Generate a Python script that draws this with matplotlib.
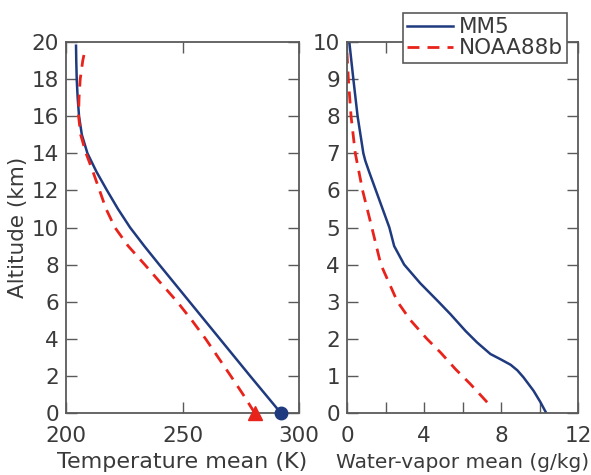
import matplotlib
matplotlib.use("Agg")
import matplotlib.pyplot as plt
from matplotlib.ticker import MultipleLocator, FixedLocator

# Temperature profiles (altitude in km, temperature in K)
temp_alt_mm5 = [0, 1, 2, 3, 4, 5, 6, 7, 8, 9, 10, 11, 12, 13, 14, 15, 16, 17, 18, 19, 19.8]
temp_mm5 = [292.2, 285.6, 279.0, 272.5, 266.0, 259.5, 253.0, 246.5, 240.0, 233.6, 227.5,
            222.3, 217.6, 213.1, 209.2, 206.8, 205.6, 205.0, 204.6, 204.4, 204.3]
temp_alt_noaa = [0, 1, 2, 3, 4, 5, 6, 7, 8, 9, 10, 11, 12, 13, 14, 15, 16, 17, 18, 19, 19.6]
temp_noaa = [281.0, 276.0, 270.7, 265.3, 259.9, 254.0, 247.7, 240.7, 233.8, 226.7, 221.0,
             217.2, 214.4, 211.6, 208.6, 206.3, 205.4, 205.6, 206.1, 207.2, 208.2]

# Water-vapor profiles (altitude in km, mixing ratio in g/kg)
wv_alt_mm5 = [0, 0.3, 0.6, 0.96, 1.15, 1.3, 1.45, 1.59, 1.9, 2.21, 2.66, 3.0, 3.5, 4.0, 4.5,
              5.0, 5.5, 6.0, 6.5, 6.8, 7.0, 8.0, 9.0, 10.0]
wv_mm5 = [10.35, 10.04, 9.69, 9.17, 8.85, 8.5, 7.97, 7.45, 6.76, 6.16, 5.38, 4.75, 3.8, 2.97,
          2.45, 2.2, 1.85, 1.5, 1.15, 0.95, 0.85, 0.55, 0.33, 0.12]
wv_alt_noaa = [0.29, 0.78, 1.18, 1.63, 2.0, 2.5, 3.0, 4.0, 5.0, 6.0, 7.0, 8.0, 9.0, 9.7]
wv_noaa = [7.28, 6.41, 5.64, 4.86, 4.15, 3.3, 2.62, 1.76, 1.29, 0.81, 0.43, 0.21, 0.07, 0.0]

# Surface values
surf_temp_mm5 = 292.2
surf_temp_noaa = 281.0

series_names = ["MM5", "NOAA88b"]
temp_xticks = [200, 250, 300]
wv_xticks = [0, 4, 8, 12]

BLUE = "#1f3a7e"
RED = "#e8231b"
FRAME = "#5a5a5a"
TEXT = "#3a3a3a"
FS = 15.5

plt.rcParams["font.family"] = ["DejaVu Sans"]
plt.rcParams["font.size"] = FS

fig = plt.figure(figsize=(5.91, 4.75), dpi=100)
ax1 = fig.add_axes([66 / 591, 1 - 413 / 475, (299 - 66) / 591, (413 - 42) / 475])
ax2 = fig.add_axes([347 / 591, 1 - 413 / 475, (578 - 347) / 591, (413 - 42) / 475])

dash = (4.3, 2.9)

l1, = ax1.plot(temp_mm5, temp_alt_mm5, color=BLUE, lw=1.8, label=series_names[0])
l2, = ax1.plot(temp_noaa, temp_alt_noaa, color=RED, lw=2.0, dashes=dash, label=series_names[1])
ax1.plot([surf_temp_mm5], [0], "o", color=BLUE, ms=9, clip_on=False, zorder=5)
ax1.plot([surf_temp_noaa], [0], "^", color=RED, ms=10, clip_on=False, zorder=5)

ax2.plot(wv_mm5, wv_alt_mm5, color=BLUE, lw=1.8)
ax2.plot(wv_noaa, wv_alt_noaa, color=RED, lw=2.0, dashes=dash)

ax1.set_xlim(200, 300)
ax1.set_ylim(0, 20)
ax1.xaxis.set_major_locator(FixedLocator(temp_xticks))
ax1.yaxis.set_major_locator(MultipleLocator(2))

ax2.set_xlim(0, 12)
ax2.set_ylim(0, 10)
ax2.xaxis.set_major_locator(FixedLocator(wv_xticks))
ax2.xaxis.set_minor_locator(MultipleLocator(2))
ax2.yaxis.set_major_locator(MultipleLocator(1))

for ax in (ax1, ax2):
    for sp in ax.spines.values():
        sp.set_color(FRAME)
        sp.set_linewidth(1.3)
    ax.tick_params(which="both", direction="in", length=8, width=1.0, color=FRAME,
                   top=True, right=True, labelcolor=TEXT, labelsize=FS)
    ax.tick_params(axis="x", which="both", pad=9)
    ax.tick_params(axis="y", which="both", pad=5)

ax1.set_xlabel("Temperature mean (K)", color=TEXT, fontsize=16, labelpad=5)
ax1.set_ylabel("Altitude (km)", color=TEXT, fontsize=FS, labelpad=3)
ax2.set_xlabel("Water-vapor mean (g/kg)", color=TEXT, fontsize=14.5, labelpad=5.5)

leg = fig.legend(handles=[l1, l2], loc="upper left",
                 bbox_to_anchor=(403 / 591, 1 - 13 / 475), fancybox=False,
                 framealpha=1, edgecolor=FRAME, fontsize=FS, handlelength=2.1,
                 handletextpad=0.3, borderpad=0.2, labelspacing=0.05, borderaxespad=0)
leg.get_frame().set_linewidth(1.2)
for t in leg.get_texts():
    t.set_color(TEXT)

fig.savefig("out.png", dpi=100, facecolor="white")
